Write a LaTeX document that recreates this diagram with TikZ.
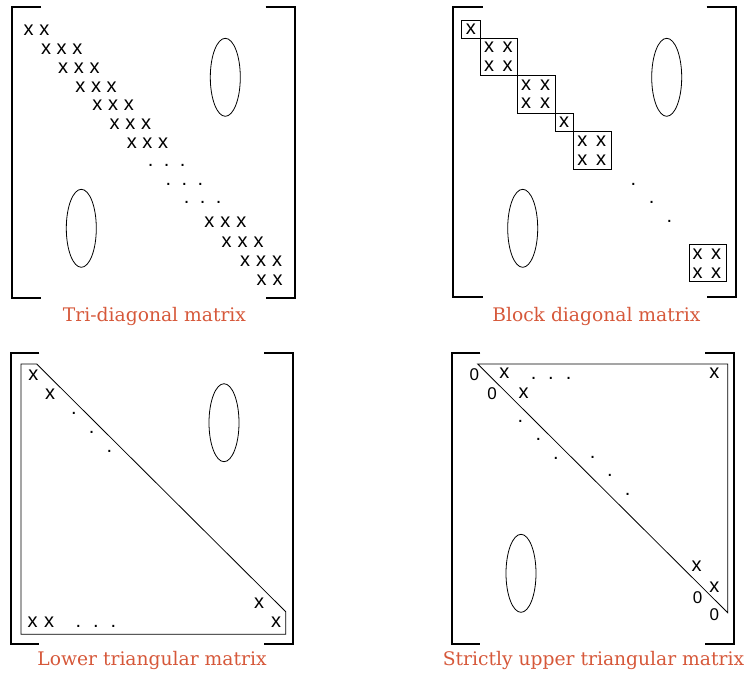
\documentclass[tikz,border=0pt]{standalone}
\usepackage{fontspec}
\setmainfont{DejaVu Serif}
\newfontfamily\xfont{Liberation Sans}
\definecolor{capcol}{RGB}{214,88,58}
\begin{document}
\begin{tikzpicture}[x=1pt,y=-1pt,
  brk/.style={line width=2pt},
  thinl/.style={line width=0.8pt},
  ent/.style={inner sep=0pt, font=\xfont\fontsize{20}{20}\selectfont},
  zer/.style={inner sep=0pt, font=\xfont\fontsize{17}{17}\selectfont},
  dotn/.style={inner sep=0pt, font=\xfont\fontsize{20}{20}\selectfont},
  capt/.style={anchor=base, text=capcol, font=\fontsize{18.7}{18.7}\selectfont}]
\useasboundingbox (0,0) rectangle (746,675);

% ---------- Tri-diagonal ----------
\draw[brk] (41,7.3) -- (12.3,7.3) -- (12.3,297.7) -- (41,297.7);
\draw[brk] (265.7,7.3) -- (294.7,7.3) -- (294.7,297.7) -- (265.7,297.7);
\draw[thinl] (225.3,77.3) ellipse [x radius=15, y radius=39];
\draw[thinl] (81.3,228.3) ellipse [x radius=15, y radius=39];
\node[ent] (t11) at (28.7,30.7) {x};
\node[ent] (t12) at (44.3,30.7) {x};
\foreach \r in {2,...,7}{
  \foreach \c in {0,1,2}{
    \node[ent] (t\r\c) at ({46+(\r-2)*17.15+\c*15.7},{49.3+(\r-2)*18.8}) {x};
  }
}
\foreach \r/\yy/\xx in {1/165.7/150.7, 2/184/168.3, 3/202.3/186.7}{
  \foreach \c in {0,1,2}{
    \node[dotn] (td\r\c) at ({\xx+\c*16},\yy) {.};
  }
}
\foreach \r/\yy/\xx in {1/222.7/209.3, 2/242.3/226.7, 3/261/245}{
  \foreach \c in {0,1,2}{
    \node[ent] (tb\r\c) at ({\xx+\c*16},\yy) {x};
  }
}
\node[ent] (tb40) at (261.7,280) {x};
\node[ent] (tb41) at (277.7,280) {x};
\node[capt] (cap1) at (154.5,321) {Tri-diagonal matrix};

% ---------- Block diagonal ----------
\draw[brk] (482.7,7.3) -- (453.3,7.3) -- (453.3,297.3) -- (482.7,297.3);
\draw[brk] (706.7,7.3) -- (736,7.3) -- (736,297.3) -- (706.7,297.3);
\draw[thinl] (666.7,77.3) ellipse [x radius=15, y radius=39];
\draw[thinl] (522.7,228.3) ellipse [x radius=15, y radius=39];
\draw[thinl] (461.7,20) rectangle (480,38.3);
\node[ent] (b1) at (470.8,29.2) {x};
\draw[thinl] (480,38.3) rectangle (517.3,75.7);
\node[ent] (b21) at (489,47.7) {x};
\node[ent] (b22) at (507.7,47.7) {x};
\node[ent] (b23) at (489,66.5) {x};
\node[ent] (b24) at (507.7,66.5) {x};
\draw[thinl] (517.3,75.7) rectangle (555,113.3);
\node[ent] (b31) at (526.2,85) {x};
\node[ent] (b32) at (545,85) {x};
\node[ent] (b33) at (526.2,103.5) {x};
\node[ent] (b34) at (545,103.5) {x};
\draw[thinl] (555,113.3) rectangle (573.3,131.7);
\node[ent] (b4) at (564.2,122.5) {x};
\draw[thinl] (573.3,131.7) rectangle (611,169);
\node[ent] (b51) at (582.3,141.2) {x};
\node[ent] (b52) at (601,141.2) {x};
\node[ent] (b53) at (582.3,159.8) {x};
\node[ent] (b54) at (601,159.8) {x};
\node[dotn] (bd1) at (633.3,184) {.};
\node[dotn] (bd2) at (651.7,202.3) {.};
\node[dotn] (bd3) at (669.3,221) {.};
\draw[thinl] (689,244.3) rectangle (726,281.7);
\node[ent] (b61) at (697.5,254) {x};
\node[ent] (b62) at (716.2,254) {x};
\node[ent] (b63) at (697.5,273) {x};
\node[ent] (b64) at (716.2,273) {x};
\node[capt] (cap2) at (596.3,321) {Block diagonal matrix};

% ---------- Lower triangular ----------
\draw[brk] (39.3,353.3) -- (11,353.3) -- (11,644) -- (39.3,644);
\draw[brk] (264.3,353.3) -- (293.3,353.3) -- (293.3,644) -- (264.3,644);
\draw[thinl] (21,364) -- (36.7,364) -- (285.7,611.7) -- (285.7,634.3) -- (21,634.3) -- cycle;
\draw[thinl] (224,422.7) ellipse [x radius=15, y radius=39];
\node[ent] (l1) at (33.3,375) {x};
\node[ent] (l2) at (50,394) {x};
\node[dotn] (ld1) at (74,413.3) {.};
\node[dotn] (ld2) at (91.7,432.3) {.};
\node[dotn] (ld3) at (109.3,451) {.};
\node[ent] (l3) at (259,603.3) {x};
\node[ent] (l4) at (276,622.7) {x};
\node[ent] (l5) at (32.7,622.7) {x};
\node[ent] (l6) at (49,622.7) {x};
\node[dotn] (ld4) at (78.3,626) {.};
\node[dotn] (ld5) at (96,626) {.};
\node[dotn] (ld6) at (113.3,626) {.};
\node[capt] (cap3) at (152,665) {Lower triangular matrix};

% ---------- Strictly upper triangular ----------
\draw[brk] (480.3,353.3) -- (452,353.3) -- (452,644) -- (480.3,644);
\draw[brk] (705.3,353.3) -- (733.7,353.3) -- (733.7,644) -- (705.3,644);
\draw[thinl] (477.7,364) -- (727.7,364) -- (727.7,612.7) -- cycle;
\draw[thinl] (521,573.3) ellipse [x radius=15, y radius=39];
\node[zer] (u01) at (474.3,375) {0};
\node[ent] (u1) at (504.3,373.3) {x};
\node[dotn] (ud1) at (533.7,378.3) {.};
\node[dotn] (ud2) at (551,378.3) {.};
\node[dotn] (ud3) at (568.7,378.3) {.};
\node[ent] (u2) at (714.3,373.3) {x};
\node[zer] (u02) at (492,393.3) {0};
\node[ent] (u3) at (523.7,393.3) {x};
\node[dotn] (ud4) at (520.3,421) {.};
\node[dotn] (ud5) at (538.3,439.3) {.};
\node[dotn] (ud6) at (556,458.3) {.};
\node[dotn] (ud7) at (592.7,457.3) {.};
\node[dotn] (ud8) at (610,475.7) {.};
\node[dotn] (ud9) at (627.7,494.3) {.};
\node[ent] (u4) at (696.7,566.7) {x};
\node[zer] (u03) at (697.7,597.3) {0};
\node[ent] (u5) at (714.3,587.3) {x};
\node[zer] (u04) at (714.3,615) {0};
\node[capt] (cap4) at (593.5,665) {Strictly upper triangular matrix};
\end{tikzpicture}
\end{document}
